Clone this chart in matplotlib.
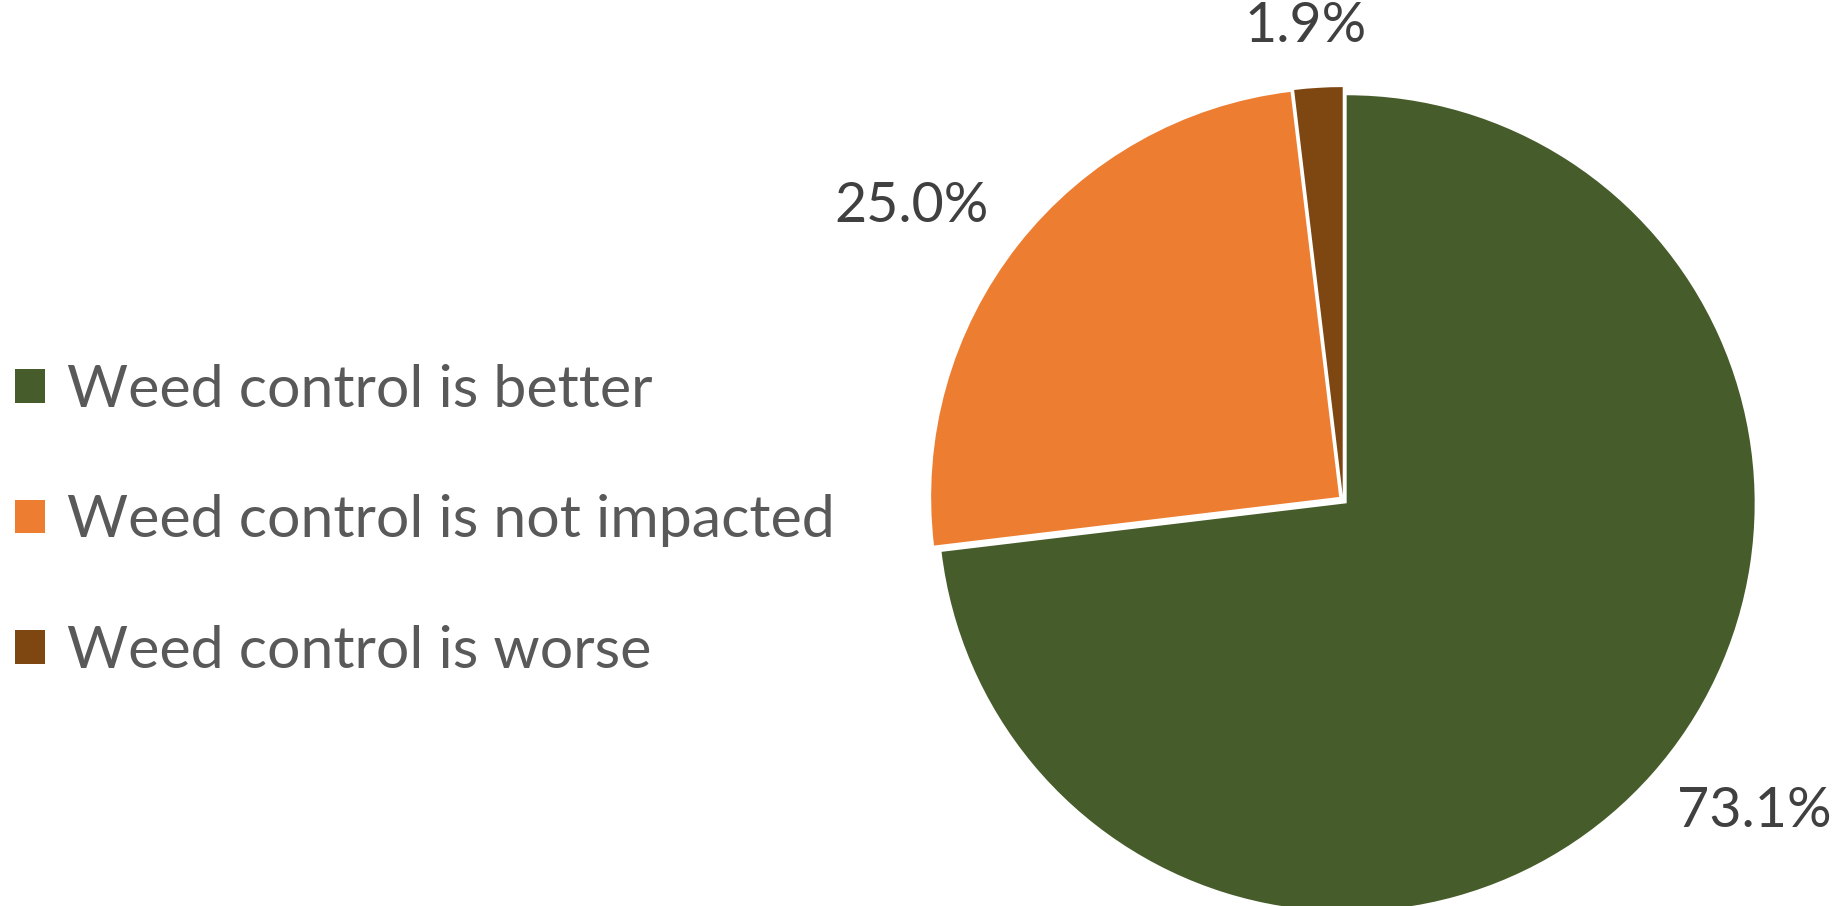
import matplotlib.pyplot as plt
import numpy as np

# Data
labels = ["Weed control is better", "Weed control is not impacted", "Weed control is worse"]
values = [73.1, 25.0, 1.9]
colors = ["#465D2B", "#ED7D31", "#7E4711"]
label_dist = [1.265, 1.279, 1.165]   # where the % labels sit (radius units)
label_shift = [4.4, 3.9, 1.1]        # small angular nudge, degrees

W, H = 1845, 906
fig = plt.figure(figsize=(W / 100, H / 100), dpi=100)

# pie axes: centre (1343, 500 from top), radius ~408 px
cx, cy, side = 1343, H - 500, 900
ax = fig.add_axes([(cx - side / 2) / W, (cy - side / 2) / H, side / W, side / H])
wedges, _ = ax.pie(values, colors=colors, startangle=90, counterclock=False,
                   explode=[0.012] * 3, radius=1.0,
                   wedgeprops=dict(linewidth=0))
lim = side / 2 / 408
ax.set_xlim(-lim, lim)
ax.set_ylim(-lim, lim)
ax.set_aspect("equal")
ax.axis("off")

# percentage labels
for w, v, r, s in zip(wedges, values, label_dist, label_shift):
    ang = np.deg2rad((w.theta1 + w.theta2) / 2 + s)
    ax.text(r * np.cos(ang), r * np.sin(ang), f"{v:.1f}%", ha="center", va="center",
            fontsize=40, color="#404040", family=["Lato", "DejaVu Sans"], clip_on=False)

# legend
leg = fig.legend(wedges, labels, loc="upper left", bbox_to_anchor=(15 / W, 1 - 364 / H),
                 frameon=False, prop=dict(family=["Lato", "DejaVu Sans"], size=42.5),
                 labelcolor="#595959", handlelength=0.5, handleheight=0.5,
                 handletextpad=0.38, labelspacing=1.31, borderpad=0, borderaxespad=0)

fig.savefig("out.png", dpi=100)
